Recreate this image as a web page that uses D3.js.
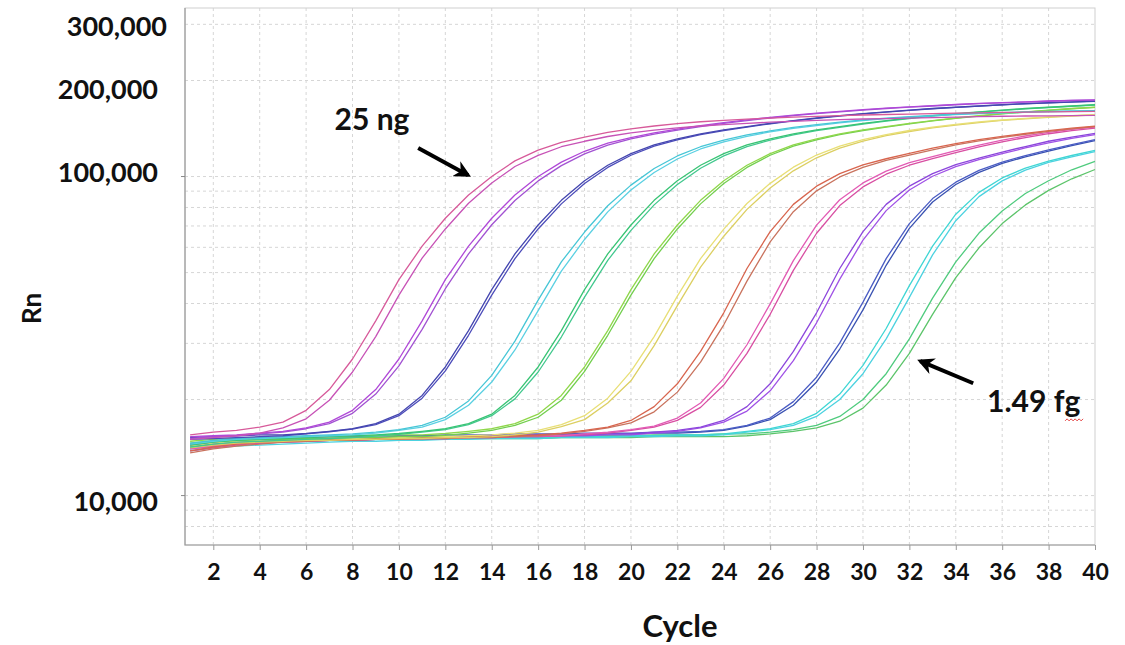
<!DOCTYPE html>
<html>
<head>
<meta charset="utf-8">
<script src="https://cdnjs.cloudflare.com/ajax/libs/d3/7.8.5/d3.min.js"></script>
<style>
	body { margin: 0; background: #fff; }
	text { font-family: Lato, "Open Sans", sans-serif; font-weight: 700; fill: #111; }
</style>
</head>
<body>
<div id="viz"></div>
<script>
//==============================================================================
// Data (Rn in thousands, cycles 1..40, two replicates per dilution)
var cycles = d3.range(1, 41);
var x_ticks = d3.range(2, 41, 2);
var y_labels = [300000, 200000, 100000, 10000];

var g01a = [15.5,15.8,16.0,16.4,17.0,18.5,21.5,26.8,35.3,47.5, 60.5,74,87.5,100,112,121,128,133,137.5,141, 144,146.5,148.5,150,151.3,152.5,153.5,154.4,155.2,155.9, 156.5,157,157.5,158,158.4,158.8,159.1,159.4,159.7,160];
var g01b = [15.0,15.2,15.4,15.7,16.3,17.4,19.9,24.4,31.5,42.5, 55.5,68.5,82.5,95.5,107.5,116.5,124,129,133.5,137, 139.8,142,144,145.5,146.8,148,149,150,150.8,151.5, 152,152.5,153,153.5,154,154.5,154.8,155,155.3,155.5];
var g02a = [15.3,15.4,15.5,15.7,15.9,16.3,17.0,18.5,21.5,26.8, 35.3,47.5,60.5,74,87.5,100,111,120,127.3,132.5, 137,140.8,144.3,147.5,150.5,153.3,155.8,158,160,162, 163.8,165.3,166.8,168.3,169.5,170.5,171.5,172.5,173.3,173.8];
var g02b = [15.1,15.3,15.4,15.6,15.8,16.2,16.8,18.1,20.8,25.5, 33.2,44.5,57.2,70.6,84.1,96.9,108.2,117.8,125.5,131.2, 135.9,139.9,143.4,146.7,149.8,152.6,155.2,157.5,159.5,161.5, 163.4,165,166.4,167.9,169.2,170.2,171.2,172.2,173.1,173.7];
var g03a = [15.2,15.3,15.4,15.5,15.5,15.65,15.9,16.2,16.8,18.0, 20.6,25.3,32.9,44.2,57.2,70.5,84.2,97,108.5,118, 125.6,131.2,136,140,143.4,146.8,149.8,152.6,155.1,157.5, 159.5,161.5,163.4,164.9,166.4,167.9,169.3,170.3,171.3,172.3];
var g03b = [15.0,15.1,15.2,15.3,15.4,15.6,15.85,16.15,16.7,17.8, 20.2,24.6,31.8,42.5,55.3,68.5,82.1,95.1,106.8,116.6, 124.5,130.4,135.3,139.4,142.9,146.3,149.4,152.2,154.7,157.1, 159.2,161.2,163.1,164.7,166.2,167.7,169.1,170.2,171.2,172.2];
var g04a = [14.6,14.9,15.1,15.2,15.3,15.4,15.5,15.6,15.8,16.1, 16.6,17.6,19.8,23.8,30.5,41,54,67,81,94, 106,116,124,130,135,139,142.5,145.5,148,150.5, 152.5,154.2,155.6,156.8,157.8,158.7,159.4,160,160.5,161];
var g04b = [14.5,14.8,15.0,15.1,15.2,15.3,15.4,15.5,15.7,16.0, 16.4,17.3,19.2,22.7,28.6,38,50.5,63.5,77.5,90.7, 103,113.5,122,128.5,133.7,138,141.5,144.5,147.2,149.7, 151.8,153.6,155,156.3,157.4,158.3,159,159.6,160.1,160.6];
var g05a = [14.4,14.7,14.9,15.0,15.1,15.2,15.3,15.4,15.5,15.65, 15.9,16.2,16.8,18.0,20.6,25.3,32.9,44.2,57.2,70.5, 84.2,97,108.5,118,125.6,131.2,136,140,143.4,146.8, 149.8,152.6,155.1,157.5,159.5,161.5,163.4,164.9,166.4,167.9];
var g05b = [14.2,14.5,14.7,14.8,14.9,15.0,15.1,15.2,15.35,15.55, 15.8,16.1,16.7,17.8,20.1,24.4,31.4,41.9,54.6,67.8, 81.5,94.4,106.2,116.1,124.1,130.1,135,139.2,142.7,146.1, 149.2,152,154.6,157,159.1,161.1,163,164.6,166.1,167.6];
var g06a = [14.8,15.0,15.1,15.2,15.2,15.3,15.3,15.4,15.4,15.5, 15.5,15.65,15.9,16.2,16.8,18.0,20.6,25.3,32.9,44.2, 57.2,70.5,84.2,97,108.5,118,125.6,131.2,136,140, 143.4,146.8,149.8,152.6,155.1,157.5,159.5,161.5,163.4,164.9];
var g06b = [14.6,14.8,14.9,15.0,15.0,15.1,15.1,15.2,15.2,15.3, 15.3,15.45,15.7,16.0,16.6,17.6,19.9,24.5,31.8,42.5, 55.3,68.5,82.1,95.1,106.8,116.6,124.5,130.4,135.3,139.4, 142.9,146.3,149.4,152.2,154.7,157.1,159.2,161.2,163.1,164.7];
var g07a = [14.3,14.6,14.8,14.9,15.0,15.0,15.1,15.1,15.2,15.2, 15.3,15.3,15.4,15.5,15.7,16.0,16.7,17.8,20.2,24.5, 31.5,42.2,55.3,68.4,82.3,95.2,107,116.8,124.6,130.5, 135.4,139.4,142.8,145.8,148.3,150.4,152.2,153.8,155.1,156.3];
var g07b = [14.1,14.4,14.6,14.7,14.8,14.9,14.9,15.0,15.0,15.1, 15.1,15.2,15.2,15.3,15.5,15.8,16.45,17.3,19.5,22.9, 29.5,39.4,52,65,78.9,92,104.2,114.5,122.8,129.1, 134.3,138.4,142,145,147.6,149.9,151.7,153.4,154.8,156];
var g08a = [13.8,14.2,14.5,14.7,14.8,14.9,15.0,15.0,15.1,15.1, 15.2,15.2,15.3,15.3,15.4,15.5,15.7,16.0,16.4,17.2, 19.0,22.4,28.3,37.4,51.5,67.2,81.8,93.3,102.1,108.7, 113.7,118.2,122.7,126.8,130.5,133.6,136.6,139.3,141.8,143.9];
var g08b = [13.6,14.0,14.3,14.5,14.7,14.8,14.9,14.9,15.0,15.0, 15.1,15.1,15.2,15.2,15.3,15.4,15.6,15.9,16.3,16.9, 18.3,21.1,26.2,34.3,47,62.4,77.6,90.2,99.7,106.9, 112.3,116.8,121.3,125.6,129.4,132.7,135.7,138.5,141,143.3];
var g09a = [14.0,14.3,14.5,14.7,14.8,14.9,14.9,15.0,15.0,15.1, 15.1,15.2,15.2,15.3,15.3,15.4,15.4,15.6,15.8,16.1, 16.5,17.5,19.5,23.3,29.7,39.9,54.5,70.4,84.6,95.5, 104,110.5,115.5,120.5,125.5,130,134,137.5,140.5,143];
var g09b = [13.8,14.1,14.4,14.6,14.7,14.8,14.9,14.9,15.0,15.0, 15.1,15.1,15.2,15.2,15.3,15.3,15.4,15.5,15.7,16.0, 16.4,17.2,18.9,22.2,27.9,37,50.8,66.4,81.1,92.8, 101.7,108.5,113.8,118.8,123.8,128.5,132.5,136.2,139.3,141.8];
var g10a = [14.2,14.5,14.7,14.8,14.9,15.0,15.0,15.1,15.1,15.2, 15.2,15.3,15.3,15.4,15.4,15.5,15.5,15.5,15.6,15.6, 15.8,16.0,16.4,17.2,19.0,22.4,28.3,37.4,51.5,67.2, 81.8,93.3,102.1,108.9,114.2,119.3,124.2,129,133,136.5];
var g10b = [14.0,14.3,14.5,14.6,14.7,14.8,14.9,14.9,15.0,15.0, 15.1,15.1,15.2,15.2,15.3,15.3,15.4,15.4,15.5,15.5, 15.7,15.9,16.3,17.0,18.4,21.3,26.5,34.8,47.7,63.2, 78.2,90.7,100.2,107.4,112.9,117.9,122.9,127.6,131.7,135.3];
var g11a = [14.5,14.8,15.0,15.1,15.2,15.2,15.3,15.3,15.4,15.4, 15.4,15.5,15.5,15.5,15.6,15.6,15.6,15.7,15.7,15.7, 15.8,15.8,15.9,16.1,16.6,17.5,19.7,23.5,30.1,40.4, 55.3,71.2,85.3,96,104.6,111,116.3,121.2,126,130.5];
var g11b = [14.3,14.6,14.8,14.9,15.0,15.1,15.1,15.2,15.2,15.3, 15.3,15.3,15.4,15.4,15.4,15.5,15.5,15.5,15.6,15.6, 15.7,15.7,15.8,16.0,16.5,17.3,19.2,22.7,28.8,38.2, 52.7,68.8,83.2,94.4,103,109.9,115.3,120.2,125,129.5];
var g12a = [14.0,14.3,14.5,14.6,14.7,14.8,14.9,14.9,15.0,15.0, 15.1,15.1,15.1,15.2,15.2,15.2,15.3,15.3,15.3,15.4, 15.4,15.5,15.5,15.6,15.9,16.2,16.8,18.1,20.8,25.6, 33.4,45.5,60.5,76.2,89.2,99,106.3,111.8,116.4,120.8];
var g12b = [13.8,14.1,14.3,14.4,14.5,14.6,14.7,14.8,14.8,14.9, 14.9,15.0,15.0,15.1,15.1,15.1,15.2,15.2,15.2,15.3, 15.3,15.4,15.4,15.5,15.8,16.1,16.6,17.7,20,24.1, 31,41.8,56.8,72.7,86.5,96.9,104.8,110.7,115.2,119.7];
var g13a = [14.4,14.6,14.8,14.9,15.0,15.0,15.1,15.1,15.1,15.2, 15.2,15.2,15.2,15.3,15.3,15.3,15.3,15.4,15.4,15.4, 15.5,15.5,15.5,15.6,15.6,15.8,16.1,16.6,17.7,20.0, 24.1,31,41.6,54,66.5,78,88.5,97,105,111.5];
var g13b = [14.2,14.4,14.6,14.7,14.8,14.8,14.9,14.9,15.0,15.0, 15.0,15.0,15.1,15.1,15.1,15.1,15.2,15.2,15.2,15.2, 15.3,15.3,15.3,15.3,15.4,15.6,15.9,16.3,17.1,18.8, 22.2,27.9,37,48.2,59.8,71.2,81.5,90.5,98.4,105.2];

var series = [g13b, g13a, g12b, g12a, g11b, g11a, g10b, g10a, g09b, g09a, g08b, g08a, g07b, g07a,
	g06b, g06a, g05b, g05a, g04b, g04a, g03b, g03a, g02b, g02a, g01b, g01a];
var colors = ["#5cc46a", "#4fcb7e", "#4cd2e0", "#3fd6d4", "#3a52b2", "#4a5cc4", "#a052e6", "#8c46dc",
	"#d84ea2", "#e25ab4", "#c9735e", "#d8654e", "#dccf62", "#e8df76",
	"#72cf4e", "#8fd74a", "#42c88e", "#38c474", "#5ad0e2", "#46c6d6", "#4c4cba", "#4446b0",
	"#a252d2", "#b048d8", "#c752b6", "#d75a9a"];

//==============================================================================
// Initial variables
var width = 1125;
var height = 645;
var left = 185, right = 1095, top_y = 8, bottom = 545;

var svg = d3.select("#viz")
			.append("svg")
			.attr("width", width)
			.attr("height", height);

var xScale = d3.scaleLinear().domain([0.78, 40]).range([left, right]);
var yScale = d3.scaleLog().domain([7000, 337500]).range([bottom, top_y]);

//==============================================================================
// Grid
var grid = svg.append("g").attr("class", "grid");

grid.selectAll("line.v")
	.data(x_ticks.filter(function(d) { return d < 40 }))
	.enter().append("line")
	.attr("x1", function(d) { return xScale(d) })
	.attr("x2", function(d) { return xScale(d) })
	.attr("y1", top_y)
	.attr("y2", bottom)
	.attr("stroke", "#d6d6d6")
	.attr("stroke-dasharray", "3,3");

grid.selectAll("line.h")
	.data(yScale.ticks().filter(function(d) { return d > 7000 }))
	.enter().append("line")
	.attr("x1", left)
	.attr("x2", right)
	.attr("y1", function(d) { return yScale(d) })
	.attr("y2", function(d) { return yScale(d) })
	.attr("stroke", "#d6d6d6")
	.attr("stroke-dasharray", "3,3");

// frame
svg.append("rect")
	.attr("x", left).attr("y", top_y)
	.attr("width", right - left).attr("height", bottom - top_y)
	.attr("fill", "none")
	.attr("stroke", "#cfcfcf");
svg.append("path")
	.attr("d", "M" + left + "," + top_y + "V" + bottom + "H" + right)
	.attr("fill", "none")
	.attr("stroke", "#9a9a9a")
	.attr("stroke-width", 1.2);

//==============================================================================
// Curves
var line = d3.line()
	.x(function(d, i) { return xScale(cycles[i]) })
	.y(function(d) { return yScale(d * 1000) });

svg.append("g")
	.attr("class", "curves")
	.selectAll("path")
	.data(series)
	.enter().append("path")
	.attr("d", line)
	.attr("fill", "none")
	.attr("stroke", function(d, i) { return colors[i] })
	.attr("stroke-width", 1.3)
	.attr("stroke-linejoin", "round");

//==============================================================================
// Axes
var xAxis = d3.axisBottom(xScale).tickValues(x_ticks).tickSize(5).tickPadding(14);
var gx = svg.append("g")
	.attr("transform", "translate(0," + bottom + ")")
	.call(xAxis);
gx.select(".domain").remove();
gx.selectAll("line").attr("stroke", "#9a9a9a");
gx.selectAll("text").style("font-size", "23px").attr("fill", "#111");

// y ticks only at decades
svg.selectAll("line.ytick")
	.data([10000, 100000])
	.enter().append("line")
	.attr("x1", left - 4).attr("x2", left)
	.attr("y1", function(d) { return yScale(d) })
	.attr("y2", function(d) { return yScale(d) })
	.attr("stroke", "#888");

// label nudges as laid out in the original figure
var label_dy = {300000: 2, 200000: 9, 100000: -4, 10000: 6};
var label_x = {300000: 167, 200000: 158, 100000: 158, 10000: 158};
svg.selectAll("text.ylab")
	.data(y_labels)
	.enter().append("text")
	.attr("x", function(d) { return label_x[d] })
	.attr("y", function(d) { return yScale(d) + label_dy[d] })
	.attr("dy", "0.36em")
	.attr("text-anchor", "end")
	.style("font-size", "27px")
	.text(function(d) { return d3.format(",")(d) });

// axis titles
svg.append("text")
	.attr("x", (left + right) / 2 + 40)
	.attr("y", 637)
	.attr("text-anchor", "middle")
	.style("font-size", "31px")
	.text("Cycle");

svg.append("text")
	.attr("transform", "translate(41," + ((top_y + bottom) / 2 + 32) + ") rotate(-90)")
	.attr("text-anchor", "middle")
	.style("font-size", "26px")
	.text("Rn");

//==============================================================================
// Annotations
var notes = [
	{text: "25 ng", tx: 8.84, ty: 139900, ax: 10.83, ay: 122800, bx: 12.98, by: 101000, anchor: "middle"},
	{text: "1.49 fg", tx: 35.35, ty: 18300, ax: 34.75, ay: 22500, bx: 32.47, by: 26400, anchor: "start"}
];

var defs = svg.append("defs");
defs.append("marker")
	.attr("id", "head")
	.attr("viewBox", "0 0 10 10")
	.attr("refX", 8).attr("refY", 5)
	.attr("markerWidth", 4.2).attr("markerHeight", 4.2)
	.attr("orient", "auto")
	.append("path")
	.attr("d", "M0,0 L10,5 L0,10 L3,5 Z")
	.attr("fill", "#000");

var ann = svg.append("g").attr("class", "notes");
ann.selectAll("line")
	.data(notes)
	.enter().append("line")
	.attr("x1", function(d) { return xScale(d.ax) })
	.attr("y1", function(d) { return yScale(d.ay) })
	.attr("x2", function(d) { return xScale(d.bx) })
	.attr("y2", function(d) { return yScale(d.by) })
	.attr("stroke", "#000")
	.attr("stroke-width", 4)
	.attr("marker-end", "url(#head)");

ann.selectAll("text")
	.data(notes)
	.enter().append("text")
	.attr("x", function(d) { return xScale(d.tx) })
	.attr("y", function(d) { return yScale(d.ty) })
	.attr("text-anchor", function(d) { return d.anchor })
	.style("font-size", "30px")
	.text(function(d) { return d.text });

// red spell-check squiggle under "fg"
var sq_x = xScale(35.35) + 78, sq_y = yScale(18300) + 8;
var sq = d3.range(0, 19, 2).map(function(k, i) { return [sq_x + k, sq_y + (i % 2 ? -1 : 1)] });
ann.append("path")
	.attr("d", d3.line()(sq))
	.attr("fill", "none")
	.attr("stroke", "#e03030")
	.attr("stroke-width", 0.9);
</script>
</body>
</html>
